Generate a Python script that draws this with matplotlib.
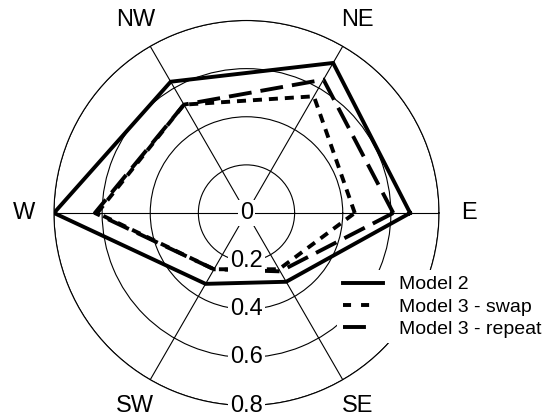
import numpy as np
import matplotlib
matplotlib.use("Agg")
import matplotlib.pyplot as plt
from matplotlib.lines import Line2D

plt.rcParams['font.family'] = ['Liberation Sans', 'DejaVu Sans']
plt.rcParams['lines.scale_dashes'] = False

## Data
directions = ['E', 'NE', 'NW', 'W', 'SW', 'SE']
angles_deg = [0, 60, 120, 180, 240, 300]
model2 = [0.68, 0.72, 0.63, 0.80, 0.34, 0.33]
model3_swap = [0.45, 0.56, 0.52, 0.62, 0.27, 0.27]
model3_repeat = [0.61, 0.64, 0.52, 0.63, 0.27, 0.28]
ring_values = [0.2, 0.4, 0.6, 0.8]
ring_labels = ['0.2', '0.4', '0.6', '0.8']
series_names = ['Model 2', 'Model 3 - swap', 'Model 3 - repeat']

theta = np.deg2rad(angles_deg)


def closed(vals):
    return np.append(theta, theta[0]), np.append(vals, vals[0])


fig = plt.figure(figsize=(5.48, 4.19), dpi=100)
ax = fig.add_axes([0.0985, 0.0322, 0.7026, 0.9189], projection='polar')
ax.set_ylim(0, 0.8)

# grid: circles and spokes
ax.set_rgrids(ring_values, labels=[])
ax.set_thetagrids(angles_deg, labels=[])
ax.grid(True, color='black', linewidth=0.8)
ax.spines['polar'].set_linewidth(0.8)
ax.spines['polar'].set_color('black')
ax.tick_params(length=0)

lw = 2.8
short_dash = (6.5, 5.0)
long_dash = (16.5, 6.5)

t, r = closed(model2)
ax.plot(t, r, color='black', lw=lw, solid_joinstyle='miter', zorder=3)
t, r = closed(model3_swap)
ax.plot(t, r, color='black', lw=lw, dashes=short_dash, dash_capstyle='butt', zorder=3)
t, r = closed(model3_repeat)
ax.plot(t, r, color='black', lw=lw, dashes=long_dash, dash_capstyle='butt', zorder=3)

# radial labels along the downward axis, white background breaks the circles
box = dict(facecolor='white', edgecolor='none', pad=1.5)
ax.text(0, 0, '0', ha='center', va='center', fontsize=17, bbox=box, zorder=5)
for rv, lab in zip(ring_values, ring_labels):
    ax.text(np.deg2rad(270), rv, lab, ha='center', va='center', fontsize=17,
            bbox=box, zorder=5)

# direction labels
for th, name in zip(theta, directions):
    ax.text(th, 0.925, name, ha='center', va='center', fontsize=17)

# legend
handles = [
    Line2D([], [], color='black', lw=lw),
    Line2D([], [], color='black', lw=lw, dashes=(5.8, 7.2, 5.8, 72), dash_capstyle='butt'),
    Line2D([], [], color='black', lw=lw, dashes=(16.5, 72), dash_capstyle='butt'),
]
fig.legend(handles, series_names, loc='upper left',
           bbox_to_anchor=(337 / 548, 1 - 270 / 419), frameon=True,
           facecolor='white', edgecolor='none', framealpha=1, fancybox=False,
           fontsize=14, handlelength=2.05, handletextpad=0.85,
           borderpad=0.3, labelspacing=0.23, borderaxespad=0)

fig.savefig('out.png', dpi=100)
